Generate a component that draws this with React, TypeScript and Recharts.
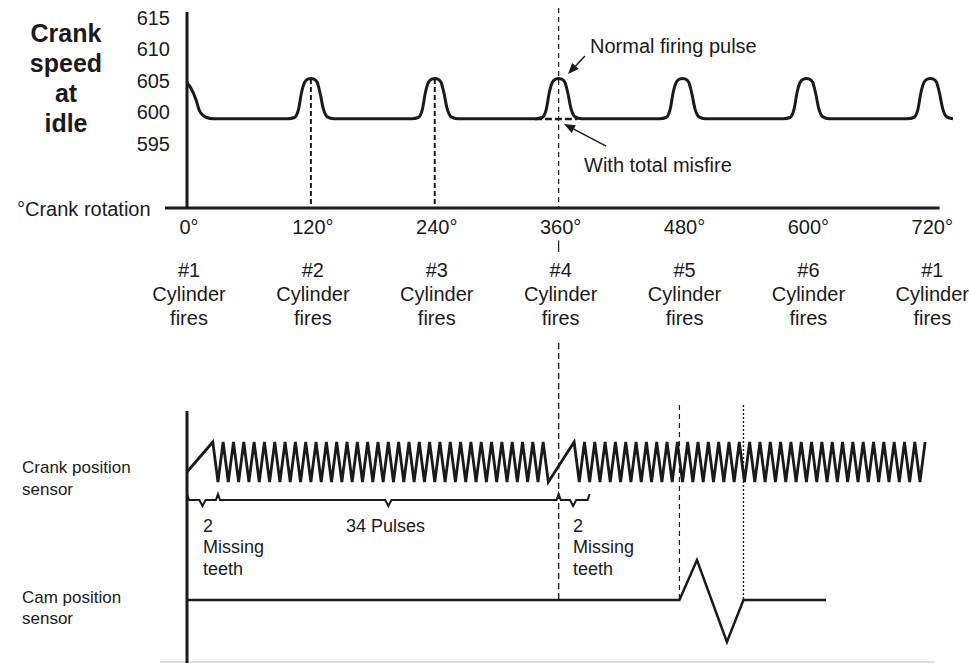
import React from 'react';
import { ComposedChart, Line, XAxis, YAxis, ReferenceLine } from 'recharts';

const FONT = '"Liberation Sans", Arial, Helvetica, sans-serif';
const INK = '#1a1a1a';

// crank angle axis
const crankDegrees = [0, 120, 240, 360, 480, 600, 720];
const firingCylinders = ['#1', '#2', '#3', '#4', '#5', '#6', '#1'];
const speedTicks = [595, 600, 605, 610, 615];

// crank speed at idle (rpm): tail of the #1 pulse at the start of the trace
const startDeg = [0, 4, 9, 12, 19, 25];
const startRpm = [604.7, 603.8, 601.9, 600.3, 599.2, 599.0];
// shape of one firing pulse, degrees either side of the firing point
const pulseOffset = [-22, -16, -12, -9, -6, -3, 0, 3, 6, 9, 12, 16, 22];
const pulseRpm = [599.0, 599.2, 600.5, 603.2, 604.8, 605.3, 605.4, 605.3, 604.8, 603.0, 600.6, 599.3, 599.0];
const firingPeaks = [120, 240, 360, 480, 600, 720];
// #4 with a total misfire
const misfireDeg = [337, 378];
const misfireRpm = [598.95, 598.95];

// crank position sensor, one sample every 5 degrees (2 missing teeth + 34 pulses, twice)
const crankStep = 5;
const crankSignal = [
  0.25, 0.4, 0.55, 0.7, 0.85, 1,
  0, 1, 0, 1, 0, 1, 0, 1, 0, 1, 0, 1, 0, 1, 0, 1, 0, 1, 0, 1, 0, 1, 0, 1, 0, 1, 0, 1,
  0, 1, 0, 1, 0, 1, 0, 1, 0, 1, 0, 1, 0, 1, 0, 1, 0, 1, 0, 1, 0, 1, 0, 1, 0, 1, 0, 1,
  0, 1, 0, 1, 0, 1, 0, 1,
  0, 0.2, 0.4, 0.6, 0.8, 1,
  0, 1, 0, 1, 0, 1, 0, 1, 0, 1, 0, 1, 0, 1, 0, 1, 0, 1, 0, 1, 0, 1, 0, 1, 0, 1, 0, 1,
  0, 1, 0, 1, 0, 1, 0, 1, 0, 1, 0, 1, 0, 1, 0, 1, 0, 1, 0, 1, 0, 1, 0, 1, 0, 1, 0, 1,
  0, 1, 0, 1, 0, 1, 0, 1, 0, 1, 0, 1,
];

// cam position sensor
const camDeg = [0, 477, 494, 523, 539, 619];
const camLevel = [0, 0, 1, -1.05, 0, 0];

// braces under the crank signal
const braceDeg = [0, 2, 12, 15, 18, 28, 30, 32, 192, 195, 198, 358, 360, 362, 371, 374, 377, 388, 390];
const braceLevel = [-0.3, -0.45, -0.45, -0.6, -0.45, -0.45, -0.3, -0.45, -0.45, -0.6, -0.45, -0.45, -0.3, -0.45, -0.45, -0.6, -0.45, -0.45, -0.3];

const speedData: { deg: number; rpm: number }[] = [];
startDeg.forEach((d, i) => speedData.push({ deg: d, rpm: startRpm[i] }));
firingPeaks.forEach((p) => pulseOffset.forEach((o, i) => speedData.push({ deg: p + o, rpm: pulseRpm[i] })));
const misfireData = misfireDeg.map((d, i) => ({ deg: d, rpm: misfireRpm[i] }));
const crankData = crankSignal.map((v, i) => ({ deg: i * crankStep, v }));
const camData = camDeg.map((d, i) => ({ deg: d, v: camLevel[i] }));
const braceData = braceDeg.map((d, i) => ({ deg: d, v: braceLevel[i] }));

const X_DOMAIN: [number, number] = [0, 742];
const SPEED_DOMAIN: [number, number] = [584.86, 615.92];

const CrankTick = (props: any) => {
  const { x, y, payload } = props;
  const i = crankDegrees.indexOf(payload.value);
  const cx = x + 2;
  return (
    <g fontFamily={FONT} fontSize={20} fill={INK} textAnchor="middle">
      <text x={cx} y={y + 26}>{`${payload.value}°`}</text>
      <text x={cx} y={y + 69}>{firingCylinders[i]}</text>
      <text x={cx} y={y + 93}>Cylinder</text>
      <text x={cx} y={y + 117}>fires</text>
    </g>
  );
};

const SpeedTick = (props: any) => {
  const { x, y, payload } = props;
  return (
    <text x={x} y={y + 7} fontFamily={FONT} fontSize={20} fill={INK} textAnchor="end">
      {payload.value}
    </text>
  );
};

const arrowShape = (p: any) => {
  const { x1, y1, x2, y2 } = p;
  const a = Math.atan2(y2 - y1, x2 - x1);
  const L = 11;
  const W = 4.5;
  const bx = x2 - L * Math.cos(a);
  const by = y2 - L * Math.sin(a);
  const pts = `${x2},${y2} ${bx - W * Math.sin(a)},${by + W * Math.cos(a)} ${bx + W * Math.sin(a)},${by - W * Math.cos(a)}`;
  return (
    <g>
      <line x1={x1} y1={y1} x2={bx} y2={by} stroke={INK} strokeWidth={1.5} />
      <polygon points={pts} fill={INK} />
    </g>
  );
};

const SpeedChart = () => (
  <ComposedChart width={969} height={340} margin={{ top: 12, right: 16, left: 0, bottom: 0 }}>
    <XAxis
      dataKey="deg"
      type="number"
      domain={X_DOMAIN}
      allowDataOverflow
      ticks={crankDegrees}
      interval={0}
      axisLine={false}
      tickLine={false}
      tickSize={0}
      tickMargin={0}
      height={132}
      tick={<CrankTick />}
    />
    <YAxis
      type="number"
      domain={SPEED_DOMAIN}
      allowDataOverflow
      ticks={speedTicks}
      interval={0}
      width={187}
      tickLine={false}
      tickSize={0}
      tickMargin={17}
      axisLine={{ stroke: INK, strokeWidth: 3 }}
      tick={<SpeedTick />}
    />
    <ReferenceLine
      segment={[{ x: -21.3, y: SPEED_DOMAIN[0] }, { x: 729, y: SPEED_DOMAIN[0] }]}
      stroke={INK}
      strokeWidth={3}
      ifOverflow="visible"
    />
    <ReferenceLine segment={[{ x: 120, y: 605.3 }, { x: 120, y: SPEED_DOMAIN[0] }]} stroke={INK} strokeWidth={2} strokeDasharray="5 3" ifOverflow="visible" />
    <ReferenceLine segment={[{ x: 240, y: 605.3 }, { x: 240, y: SPEED_DOMAIN[0] }]} stroke={INK} strokeWidth={2} strokeDasharray="5 3" ifOverflow="visible" />
    <ReferenceLine segment={[{ x: 360, y: 616.55 }, { x: 360, y: SPEED_DOMAIN[0] }]} stroke={INK} strokeWidth={1.2} strokeDasharray="5 4" ifOverflow="visible" />
    <ReferenceLine segment={[{ x: 360, y: 579.7 }, { x: 360, y: 577.9 }]} stroke={INK} strokeWidth={1.2} ifOverflow="visible" />
    <Line
      data={speedData}
      dataKey="rpm"
      type="monotone"
      stroke={INK}
      strokeWidth={3}
      dot={false}
      isAnimationActive={false}
    />
    <Line
      data={misfireData}
      dataKey="rpm"
      type="linear"
      stroke={INK}
      strokeWidth={2.5}
      strokeDasharray="7 3"
      dot={false}
      isAnimationActive={false}
    />
    <ReferenceLine segment={[{ x: 385.5, y: 608.95 }, { x: 369, y: 606.1 }]} shape={arrowShape} ifOverflow="visible" />
    <ReferenceLine segment={[{ x: 406, y: 594.67 }, { x: 365.2, y: 598.17 }]} shape={arrowShape} ifOverflow="visible" />
  </ComposedChart>
);

const SensorChart = () => (
  <ComposedChart width={969} height={323} margin={{ top: 71, right: 16, left: 0, bottom: 0 }}>
    <XAxis dataKey="deg" type="number" domain={X_DOMAIN} allowDataOverflow hide />
    <YAxis
      yAxisId="crank"
      type="number"
      domain={[-4.525, 1.775]}
      allowDataOverflow
      width={187}
      tick={false}
      tickLine={false}
      axisLine={{ stroke: INK, strokeWidth: 3 }}
    />
    <YAxis yAxisId="cam" type="number" domain={[-1.575, 4.725]} allowDataOverflow hide width={0} />
    <ReferenceLine yAxisId="cam" segment={[{ x: -26, y: -1.55 }, { x: 724, y: -1.55 }]} stroke="#cfcfcf" strokeWidth={1.5} ifOverflow="visible" />
    <ReferenceLine yAxisId="cam" segment={[{ x: 360, y: 6.425 }, { x: 360, y: 0 }]} stroke={INK} strokeWidth={1.4} strokeDasharray="6 4" ifOverflow="visible" />
    <ReferenceLine yAxisId="cam" segment={[{ x: 477, y: 4.875 }, { x: 477, y: 0 }]} stroke={INK} strokeWidth={1.2} strokeDasharray="5 4" ifOverflow="visible" />
    <ReferenceLine yAxisId="cam" segment={[{ x: 539, y: 4.875 }, { x: 539, y: 0 }]} stroke={INK} strokeWidth={1.4} strokeDasharray="2 2" ifOverflow="visible" />
    <Line
      yAxisId="crank"
      data={crankData}
      dataKey="v"
      type="linear"
      stroke={INK}
      strokeWidth={2.8}
      dot={false}
      isAnimationActive={false}
    />
    <Line
      yAxisId="crank"
      data={braceData}
      dataKey="v"
      type="linear"
      stroke={INK}
      strokeWidth={2}
      dot={false}
      isAnimationActive={false}
    />
    <Line
      yAxisId="cam"
      data={camData}
      dataKey="v"
      type="linear"
      stroke={INK}
      strokeWidth={2.5}
      dot={false}
      isAnimationActive={false}
    />
  </ComposedChart>
);

const Notes = () => (
  <svg width={969} height={663} style={{ position: 'absolute', left: 0, top: 0, pointerEvents: 'none' }}>
    <g fontFamily={FONT} fill={INK}>
      <g fontSize={25} fontWeight="bold" textAnchor="middle">
        <text x={66} y={42}>Crank</text>
        <text x={66} y={72}>speed</text>
        <text x={66} y={102}>at</text>
        <text x={66} y={132}>idle</text>
      </g>
      <g fontSize={20}>
        <text x={17} y={216}>°Crank rotation</text>
        <text x={590} y={53}>Normal firing pulse</text>
        <text x={584} y={172}>With total misfire</text>
      </g>
      <g fontSize={17}>
        <text x={22} y={473}>Crank position</text>
        <text x={22} y={495}>sensor</text>
        <text x={22} y={603}>Cam position</text>
        <text x={22} y={624}>sensor</text>
      </g>
      <g fontSize={18}>
        <text x={203} y={532}>2</text>
        <text x={203} y={553}>Missing</text>
        <text x={203} y={575}>teeth</text>
        <text x={346} y={532}>34 Pulses</text>
        <text x={573} y={532}>2</text>
        <text x={573} y={553}>Missing</text>
        <text x={573} y={575}>teeth</text>
      </g>
    </g>
  </svg>
);

export default function App() {
  return (
    <div style={{ position: 'absolute', left: 0, top: 0, width: 969, height: 663, background: '#fff', overflow: 'hidden' }}>
      <div style={{ position: 'absolute', left: 0, top: 0 }}>
        <SpeedChart />
      </div>
      <div style={{ position: 'absolute', left: 0, top: 340 }}>
        <SensorChart />
      </div>
      <Notes />
    </div>
  );
}
